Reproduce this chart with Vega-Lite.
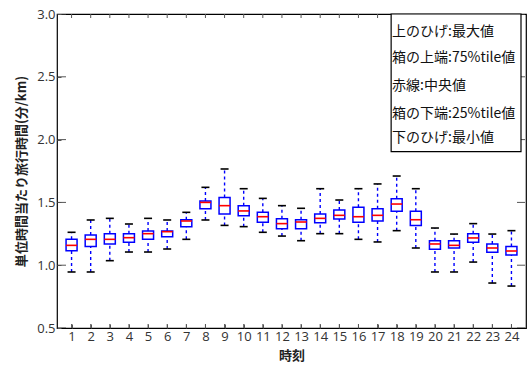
{
  "$schema": "https://vega.github.io/schema/vega-lite/v6.json",
  "width": 469,
  "height": 314,
  "autosize": {"type": "none"},
  "padding": {"left": 57, "top": 14, "right": 2, "bottom": 48},
  "background": "white",
  "config": {
    "view": {"stroke": "black", "strokeWidth": 1.2},
    "font": "Open Sans",
    "axis": {
      "domain": false,
      "grid": false,
      "labelFont": "Open Sans",
      "labelFontSize": 13,
      "labelColor": "#333333",
      "tickColor": "#555555",
      "tickSize": -4,
      "titleFont": "Noto Sans CJK JP",
      "titleFontSize": 13,
      "titleFontWeight": "bold",
      "titleColor": "#222222"
    }
  },
  "datasets": {
    "boxes": [
      {"hour": 1, "min": 0.946, "q1": 1.116, "median": 1.158, "q3": 1.206, "max": 1.262},
      {"hour": 2, "min": 0.946, "q1": 1.148, "median": 1.206, "q3": 1.240, "max": 1.360},
      {"hour": 3, "min": 1.036, "q1": 1.169, "median": 1.206, "q3": 1.251, "max": 1.373},
      {"hour": 4, "min": 1.105, "q1": 1.182, "median": 1.219, "q3": 1.251, "max": 1.328},
      {"hour": 5, "min": 1.105, "q1": 1.206, "median": 1.251, "q3": 1.272, "max": 1.373},
      {"hour": 6, "min": 1.129, "q1": 1.227, "median": 1.267, "q3": 1.272, "max": 1.360},
      {"hour": 7, "min": 1.206, "q1": 1.307, "median": 1.352, "q3": 1.362, "max": 1.421},
      {"hour": 8, "min": 1.360, "q1": 1.450, "median": 1.500, "q3": 1.511, "max": 1.620},
      {"hour": 9, "min": 1.317, "q1": 1.408, "median": 1.474, "q3": 1.540, "max": 1.766},
      {"hour": 10, "min": 1.307, "q1": 1.394, "median": 1.432, "q3": 1.474, "max": 1.609},
      {"hour": 11, "min": 1.262, "q1": 1.341, "median": 1.386, "q3": 1.421, "max": 1.532},
      {"hour": 12, "min": 1.232, "q1": 1.291, "median": 1.331, "q3": 1.370, "max": 1.474},
      {"hour": 13, "min": 1.195, "q1": 1.291, "median": 1.344, "q3": 1.362, "max": 1.453},
      {"hour": 14, "min": 1.251, "q1": 1.338, "median": 1.373, "q3": 1.408, "max": 1.609},
      {"hour": 15, "min": 1.251, "q1": 1.368, "median": 1.397, "q3": 1.439, "max": 1.519},
      {"hour": 16, "min": 1.206, "q1": 1.341, "median": 1.386, "q3": 1.461, "max": 1.609},
      {"hour": 17, "min": 1.185, "q1": 1.352, "median": 1.397, "q3": 1.450, "max": 1.647},
      {"hour": 18, "min": 1.275, "q1": 1.429, "median": 1.487, "q3": 1.529, "max": 1.710},
      {"hour": 19, "min": 1.137, "q1": 1.317, "median": 1.362, "q3": 1.429, "max": 1.609},
      {"hour": 20, "min": 0.946, "q1": 1.126, "median": 1.169, "q3": 1.195, "max": 1.296},
      {"hour": 21, "min": 0.946, "q1": 1.137, "median": 1.158, "q3": 1.195, "max": 1.248},
      {"hour": 22, "min": 1.025, "q1": 1.182, "median": 1.217, "q3": 1.251, "max": 1.331},
      {"hour": 23, "min": 0.858, "q1": 1.103, "median": 1.137, "q3": 1.169, "max": 1.248},
      {"hour": 24, "min": 0.834, "q1": 1.081, "median": 1.113, "q3": 1.148, "max": 1.275}
    ],
    "yticks": [{"v": 0.5}, {"v": 1.0}, {"v": 1.5}, {"v": 2.0}, {"v": 2.5}, {"v": 3.0}],
    "notebox": [{"x1": 17.71, "x2": 24.5, "y1": 1.904, "y2": 3.0}],
    "notes": [
      {"x": 17.76, "y": 2.857, "label": "上のひげ:最大値"},
      {"x": 17.76, "y": 2.650, "label": "箱の上端:75%tile値"},
      {"x": 17.76, "y": 2.427, "label": "赤線:中央値"},
      {"x": 17.76, "y": 2.204, "label": "箱の下端:25%tile値"},
      {"x": 17.76, "y": 2.013, "label": "下のひげ:最小値"}
    ]
  },
  "encoding": {
    "x": {
      "type": "quantitative",
      "scale": {"domain": [0.5, 24.5], "nice": false, "zero": false},
      "axis": {
        "title": "時刻",
        "values": [1,2,3,4,5,6,7,8,9,10,11,12,13,14,15,16,17,18,19,20,21,22,23,24],
        "format": "d",
        "labelPadding": 6,
        "titlePadding": 6
      }
    }
  },
  "layer": [
    {
      "data": {"name": "boxes"},
      "mark": {"type": "rule", "color": "#0000ff", "strokeDash": [3, 3], "strokeWidth": 1.4},
      "encoding": {
        "x": {"field": "hour"},
        "y": {
          "field": "q3",
          "type": "quantitative",
          "scale": {"domain": [0.5, 3.0], "nice": false, "zero": false},
          "axis": {
            "title": "単位時間当たり旅行時間(分/km)",
            "values": [0.5, 1.0, 1.5, 2.0, 2.5, 3.0],
            "format": ".1f",
            "labelPadding": 6,
            "titlePadding": 8
          }
        },
        "y2": {"field": "max"}
      }
    },
    {
      "data": {"name": "boxes"},
      "mark": {"type": "rule", "color": "#0000ff", "strokeDash": [3, 3], "strokeWidth": 1.4},
      "encoding": {
        "x": {"field": "hour"},
        "y": {"field": "min", "type": "quantitative"},
        "y2": {"field": "q1"}
      }
    },
    {
      "data": {"name": "boxes"},
      "mark": {"type": "bar", "size": 11, "fill": "white", "stroke": "#0000ff", "strokeWidth": 1.5},
      "encoding": {
        "x": {"field": "hour"},
        "y": {"field": "q1", "type": "quantitative"},
        "y2": {"field": "q3"}
      }
    },
    {
      "data": {"name": "boxes"},
      "mark": {"type": "tick", "orient": "horizontal", "size": 11, "thickness": 1.6, "color": "#ff0000", "opacity": 1},
      "encoding": {
        "x": {"field": "hour"},
        "y": {"field": "median", "type": "quantitative"}
      }
    },
    {
      "data": {"name": "boxes"},
      "mark": {"type": "tick", "orient": "horizontal", "size": 8, "thickness": 1.6, "color": "black", "opacity": 1},
      "encoding": {
        "x": {"field": "hour"},
        "y": {"field": "max", "type": "quantitative"}
      }
    },
    {
      "data": {"name": "boxes"},
      "mark": {"type": "tick", "orient": "horizontal", "size": 8, "thickness": 1.6, "color": "black", "opacity": 1},
      "encoding": {
        "x": {"field": "hour"},
        "y": {"field": "min", "type": "quantitative"}
      }
    },
    {
      "data": {"name": "boxes"},
      "mark": {"type": "tick", "orient": "vertical", "size": 8, "thickness": 1, "color": "#555555", "opacity": 1, "clip": true},
      "encoding": {
        "x": {"field": "hour"},
        "y": {"datum": 0.5, "type": "quantitative"}
      }
    },
    {
      "data": {"name": "boxes"},
      "mark": {"type": "tick", "orient": "vertical", "size": 8, "thickness": 1, "color": "#555555", "opacity": 1, "clip": true},
      "encoding": {
        "x": {"field": "hour"},
        "y": {"datum": 3.0, "type": "quantitative"}
      }
    },
    {
      "data": {"name": "yticks"},
      "mark": {"type": "tick", "orient": "horizontal", "size": 8, "thickness": 1, "color": "#555555", "opacity": 1, "clip": true},
      "encoding": {
        "x": {"datum": 0.5},
        "y": {"field": "v", "type": "quantitative"}
      }
    },
    {
      "data": {"name": "yticks"},
      "mark": {"type": "tick", "orient": "horizontal", "size": 8, "thickness": 1, "color": "#555555", "opacity": 1, "clip": true},
      "encoding": {
        "x": {"datum": 24.5},
        "y": {"field": "v", "type": "quantitative"}
      }
    },
    {
      "data": {"name": "notebox"},
      "mark": {"type": "rect", "fill": "white", "stroke": "black", "strokeWidth": 1.2},
      "encoding": {
        "x": {"field": "x1"},
        "x2": {"field": "x2"},
        "y": {"field": "y1", "type": "quantitative"},
        "y2": {"field": "y2"}
      }
    },
    {
      "data": {"name": "notes"},
      "mark": {"type": "text", "align": "left", "baseline": "middle", "font": "Noto Sans CJK JP", "fontSize": 14, "color": "#111111"},
      "encoding": {
        "x": {"field": "x"},
        "y": {"field": "y", "type": "quantitative"},
        "text": {"field": "label"}
      }
    }
  ]
}
